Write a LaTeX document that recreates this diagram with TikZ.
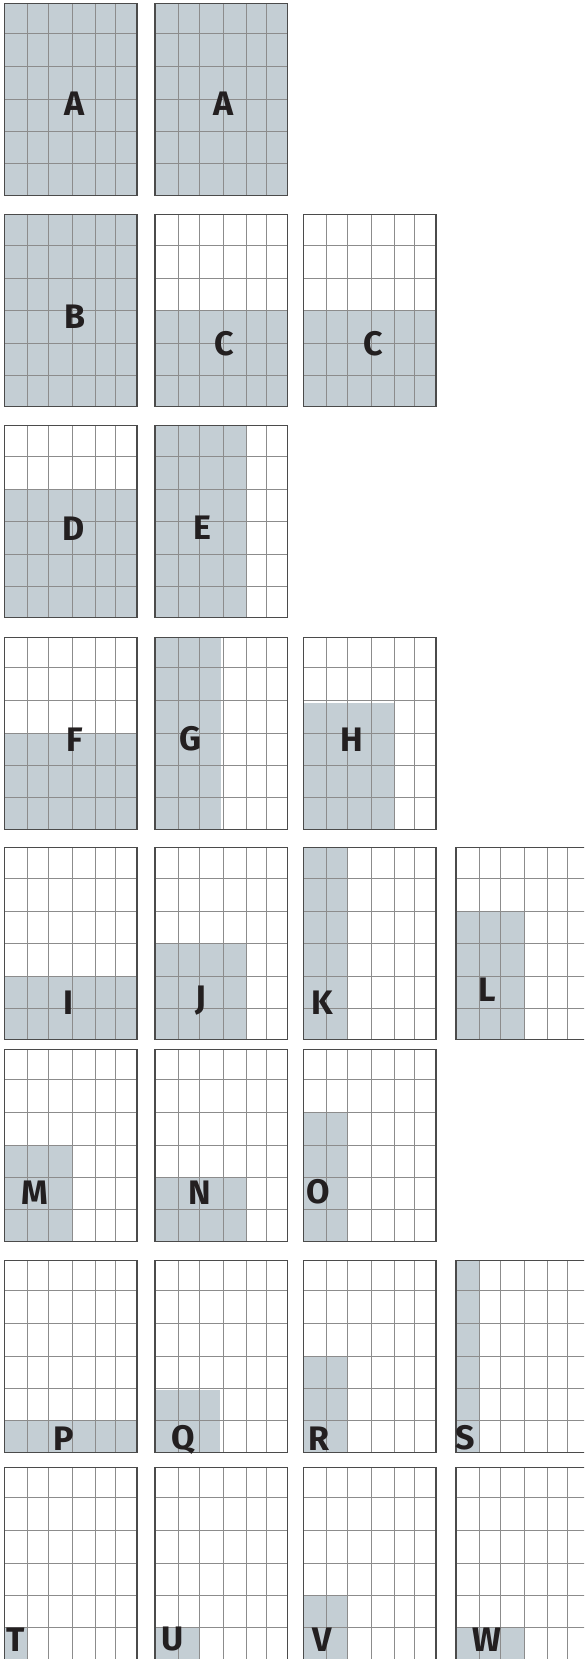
\documentclass[tikz,border=0pt]{standalone}
\usepackage{fontspec}
\setmainfont{Fira Sans}
\definecolor{cellfill}{RGB}{196,206,212}
\definecolor{gridgray}{RGB}{140,140,140}
\definecolor{framegray}{RGB}{75,75,75}
\definecolor{inkblack}{RGB}{35,31,32}
\begin{document}
\begin{tikzpicture}[x=1pt,y=-1pt,
  cellline/.style={draw=gridgray,line width=0.9pt},
  panelframe/.style={draw=framegray,line width=1.3pt},
  letter/.style={anchor=base,inner sep=0pt,text depth=0pt,text=inkblack,font=\fontsize{34}{34}\selectfont\bfseries}]
  \useasboundingbox (0,0) rectangle (584,1659);
  \clip (0,0) rectangle (584,1659);

  % panels: left, top, shaded width, shaded top offset
  \foreach \px/\py/\sw/\st in {
      4.3/3.3/132.7/0, 155/3.3/132.7/0,
      4.3/214.7/132.7/0, 155/214.7/132.7/96, 303.3/214.7/132.7/96,
      4.3/425.7/132.7/63.5, 155/425.7/91.5/0,
      4.3/637.3/132.7/96, 155/637.3/66/0, 303.3/637.3/91.5/66,
      4.3/847.7/132.7/128.5, 155/847.7/91.5/96, 303.3/847.7/44.5/0, 456/847.7/68.5/63.5,
      4.3/1049.3/68.5/96, 155/1049.3/91.5/128.5, 303.3/1049.3/44.5/63.5,
      4.3/1260.3/132.7/160.3, 155/1260.3/65/130, 303.3/1260.3/44.5/96, 456/1260.3/23.5/0,
      4.3/1467.3/23.5/160.3, 155/1467.3/44.5/160.3, 303.3/1467.3/44.5/128.5, 456/1467.3/68.5/160.3}{
    \fill[cellfill] (\px,\py+\st) rectangle (\px+\sw,\py+192);
    \foreach \cx in {23.5,44.5,68.5,91.5,111}
      \draw[cellline] (\px+\cx,\py) -- (\px+\cx,\py+192);
    \foreach \cy in {30.5,63.5,96,128.5,160.3}
      \draw[cellline] (\px,\py+\cy) -- (\px+132.7,\py+\cy);
    \draw[panelframe] (\px,\py) rectangle (\px+132.7,\py+192);
  }

  % letters
  \node[letter] (lblA1) at (74.5,116) {A};
  \node[letter] (lblA2) at (223.5,116) {A};
  \node[letter] (lblB) at (75.3,328.5) {B};
  \node[letter] (lblC1) at (223.8,355) {C};
  \node[letter] (lblC2) at (373,355) {C};
  \node[letter] (lblD) at (73.3,540) {D};
  \node[letter] (lblE) at (202.3,539.5) {E};
  \node[letter] (lblF) at (75,751) {F};
  \node[letter] (lblG) at (190.3,750) {G};
  \node[letter] (lblH) at (351.8,751) {H};
  \node[letter] (lblI) at (68.7,1014) {I};
  \node[letter] (lblJ) at (200.7,1009) {J};
  \node[letter] (lblK) at (322.5,1014) {K};
  \node[letter] (lblL) at (487.2,1001.7) {L};
  \node[letter] (lblM) at (35,1204) {M};
  \node[letter] (lblN) at (200.2,1204) {N};
  \node[letter] (lblO) at (318,1203) {O};
  \node[letter] (lblP) at (64,1450) {P};
  \node[letter] (lblQ) at (183,1449) {Q};
  \node[letter] (lblR) at (319,1450) {R};
  \node[letter] (lblS) at (465,1449) {S};
  \node[letter] (lblT) at (16,1651) {T};
  \node[letter] (lblU) at (172.8,1650.5) {U};
  \node[letter] (lblV) at (321.7,1651) {V};
  \node[letter] (lblW) at (487.3,1651) {W};
\end{tikzpicture}
\end{document}
